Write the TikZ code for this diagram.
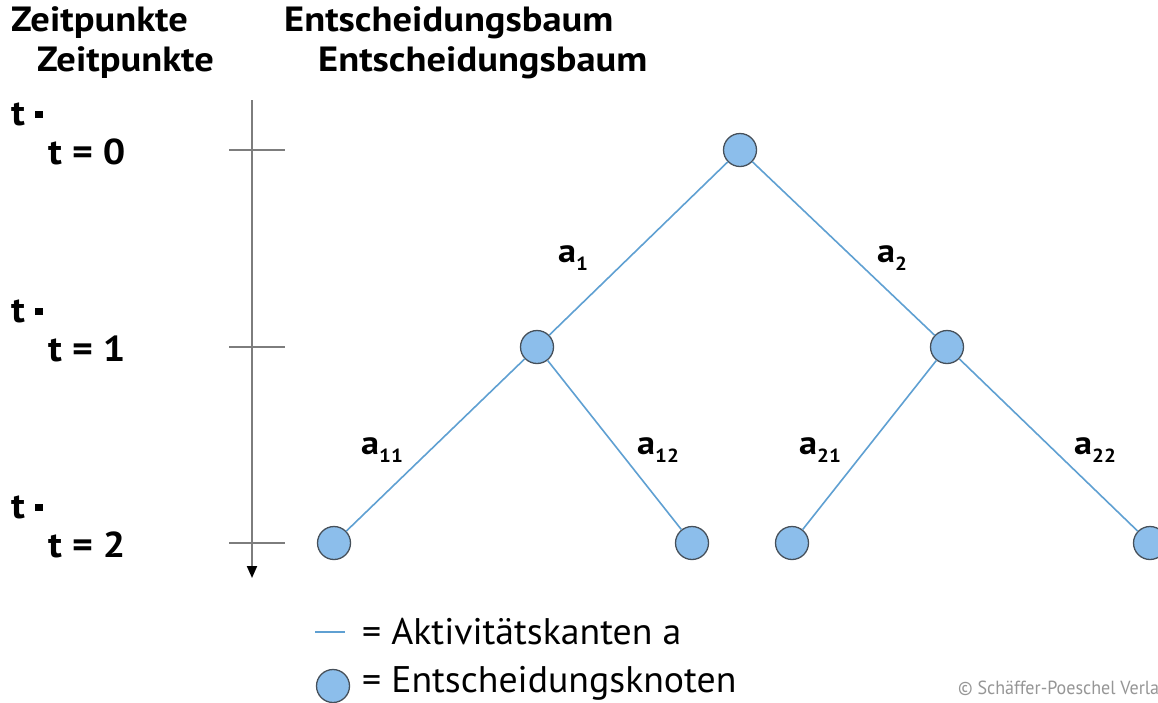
\documentclass[tikz,border=0pt]{standalone}
\usepackage{fontspec}
\setmainfont{PT Sans}
\newfontfamily\titlefont[FakeStretch=1.1]{PT Sans}
\newfontfamily\legfont[FakeStretch=1.02]{PT Sans}
\newfontfamily\copyfont[FakeStretch=0.95]{PT Sans}
\usetikzlibrary{arrows.meta}
\definecolor{edgeblue}{RGB}{95,160,210}
\definecolor{nodefill}{RGB}{140,190,235}
\definecolor{nodedraw}{RGB}{70,80,90}
\definecolor{axisgray}{RGB}{125,125,125}
\definecolor{copygray}{RGB}{150,150,150}
\newcommand{\albl}[2]{{\bfseries #1}\raisebox{-8pt}{\fontsize{19}{19}\selectfont\bfseries #2}}
\newcommand{\tsq}{\raisebox{7pt}{\rule{8pt}{7pt}}}
\begin{document}
\begin{tikzpicture}[x=1pt,y=-1pt,
  knot/.style={circle,fill=nodefill,draw=nodedraw,line width=1.3pt,minimum size=33pt,inner sep=0pt},
  edge/.style={draw=edgeblue,line width=1.6pt},
  axis/.style={draw=axisgray,line width=2pt},
  ttl/.style={font=\titlefont\bfseries\fontsize{35}{35}\selectfont,anchor=base west,inner sep=0pt},
  tlbl/.style={font=\titlefont\bfseries\fontsize{36}{36}\selectfont,anchor=base west,inner sep=0pt},
  elbl/.style={font=\titlefont\fontsize{33}{33}\selectfont,anchor=base west,inner sep=0pt},
  leg/.style={font=\legfont\fontsize{37}{37}\selectfont,anchor=base west,inner sep=0pt},
  copy/.style={font=\copyfont\fontsize{19}{19}\selectfont,text=copygray,anchor=base west,inner sep=0pt}]
\useasboundingbox (0,0) rectangle (1158,702);
\fill[white] (0,0) rectangle (1158,702);

% titles
\node[ttl] (z1) at (11,31) {Zeitpunkte};
\node[ttl] (z2) at (37,71) {Zeitpunkte};
\node[ttl] (e1) at (284,31) {Entscheidungsbaum};
\node[ttl] (e2) at (318,71) {Entscheidungsbaum};

% time labels
\node[tlbl] (ta0) at (11,125) {t \tsq};
\node[tlbl] (t0) at (48,164) {t = 0};
\node[tlbl] (ta1) at (11,322) {t \tsq};
\node[tlbl] (t1) at (48,361) {t = 1};
\node[tlbl] (ta2) at (11,518) {t \tsq};
\node[tlbl] (t2) at (48,557) {t = 2};

% axis
\coordinate (atop) at (252,100);
\coordinate (abot) at (252,578);
\draw[axis,-{Triangle[length=12pt,width=10pt,fill=black,color=black]}] (atop) -- (abot);
\coordinate (k0l) at (229,150); \coordinate (k0r) at (285,150);
\coordinate (k1l) at (229,347); \coordinate (k1r) at (285,347);
\coordinate (k2l) at (229,543); \coordinate (k2r) at (285,543);
\draw[axis] (k0l) -- (k0r);
\draw[axis] (k1l) -- (k1r);
\draw[axis] (k2l) -- (k2r);

% tree nodes
\node[knot] (r) at (740,150) {};
\node[knot] (n1) at (537,347) {};
\node[knot] (n2) at (947,347) {};
\node[knot] (n11) at (334,543) {};
\node[knot] (n12) at (692,543) {};
\node[knot] (n21) at (792,543) {};
\node[knot] (n22) at (1150,543) {};

\draw[edge] (r) -- (n1);
\draw[edge] (r) -- (n2);
\draw[edge] (n1) -- (n11);
\draw[edge] (n1) -- (n12);
\draw[edge] (n2) -- (n21);
\draw[edge] (n2) -- (n22);

% edge labels
\node[elbl] (l1) at (558,262) {\albl{a}{1}};
\node[elbl] (l2) at (877,262) {\albl{a}{2}};
\node[elbl] (l11) at (361,454) {\albl{a}{11}};
\node[elbl] (l12) at (637,454) {\albl{a}{12}};
\node[elbl] (l21) at (799,454) {\albl{a}{21}};
\node[elbl] (l22) at (1074,454) {\albl{a}{22}};

% legend
\coordinate (lg1) at (315,632);
\coordinate (lg2) at (345,632);
\draw[edge] (lg1) -- (lg2);
\node[leg] (lt1) at (362,644) {= Aktivitätskanten a};
\node[knot] (lk) at (333,686) {};
\node[leg] (lt2) at (362,692) {= Entscheidungsknoten};

\node[copy] (cp) at (958,694) {© Schäffer-Poeschel Verlag};
\end{tikzpicture}
\end{document}
